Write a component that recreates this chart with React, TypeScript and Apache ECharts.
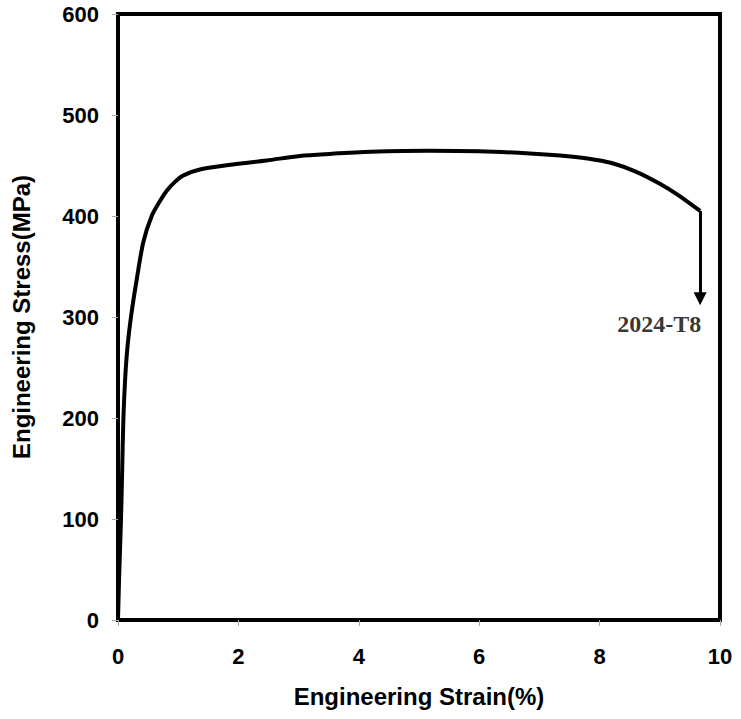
import React, { useEffect, useRef } from "react";
import * as echarts from "echarts";

const strain = [0, 0.02, 0.05, 0.07, 0.09, 0.12, 0.16, 0.22, 0.3, 0.42, 0.56, 0.7, 0.81, 0.95, 1.08, 1.36, 1.91, 2.47, 3.02, 3.52, 4.2, 5.18, 6.0, 6.84, 7.34, 7.8, 8.2, 8.6, 9.0, 9.3, 9.67];
const stress = [0, 45, 100, 150, 200, 240, 272, 302, 333, 374, 400, 415, 425, 434, 440, 446, 451, 455, 459.5, 461.5, 463.5, 464.5, 464, 462, 460, 457, 452.5, 444, 432, 421, 405];

const arrowX = 9.67;
const arrowFrom = 405;
const arrowTo = 318;
const labelText = "2024-T8";
const labelPos = [8.99, 293];

const xTicks = [0, 2, 4, 6, 8, 10];
const yTicks = [0, 100, 200, 300, 400, 500, 600];

export default function App() {
  const ref = useRef<HTMLDivElement>(null);
  useEffect(() => {
    document.body.style.margin = "0";
    const chart = echarts.init(ref.current!, null, { renderer: "svg" });
    const tickFont = { fontFamily: "Liberation Sans, Arial, sans-serif", fontWeight: "bold" as const, fontSize: 22, color: "#000" };
    const nameFont = { fontFamily: "Liberation Sans, Arial, sans-serif", fontWeight: "bold" as const, fontSize: 24, color: "#000" };
    chart.setOption({
      animation: false,
      backgroundColor: "#fff",
      grid: { left: 118, right: 21, top: 14, bottom: 99, show: true, borderColor: "#000", borderWidth: 4, backgroundColor: "transparent" },
      xAxis: {
        type: "value",
        min: xTicks[0],
        max: xTicks[xTicks.length - 1],
        interval: 2,
        name: "Engineering Strain(%)",
        nameLocation: "middle",
        nameGap: 64,
        nameTextStyle: { ...nameFont },
        axisLine: { show: true, lineStyle: { color: "#000", width: 4 } },
        axisTick: { show: true, length: 6, lineStyle: { color: "#aaa", width: 1 } },
        axisLabel: { ...tickFont, margin: 25 },
        splitLine: { show: false },
      },
      yAxis: {
        type: "value",
        min: yTicks[0],
        max: yTicks[yTicks.length - 1],
        interval: 100,
        name: "Engineering Stress(MPa)",
        nameLocation: "middle",
        nameGap: 85,
        nameTextStyle: { ...nameFont },
        axisLine: { show: true, lineStyle: { color: "#000", width: 4 } },
        axisTick: { show: true, length: 6, lineStyle: { color: "#aaa", width: 1 } },
        axisLabel: { ...tickFont, margin: 19 },
        splitLine: { show: false },
      },
      series: [
        {
          type: "line",
          data: strain.map((s, i) => [s, stress[i]]),
          smooth: 0.3,
          showSymbol: false,
          symbol: "none",
          lineStyle: { color: "#000", width: 4 },
          markLine: {
            silent: true,
            symbol: ["none", "triangle"],
            symbolSize: [13, 13],
            lineStyle: { color: "#000", width: 3, type: "solid" },
            label: { show: false },
            data: [[{ coord: [arrowX, arrowFrom] }, { coord: [arrowX, arrowTo] }]],
          },
        },
        {
          type: "scatter",
          data: [labelPos],
          symbolSize: 0,
          label: {
            show: true,
            position: "inside",
            formatter: labelText,
            fontFamily: "Liberation Serif, Times New Roman, serif",
            fontWeight: "bold",
            fontSize: 24,
            color: "#000",
          },
        },
      ],
    });
    return () => chart.dispose();
  }, []);
  return <div ref={ref} style={{ width: 741, height: 719 }} />;
}
